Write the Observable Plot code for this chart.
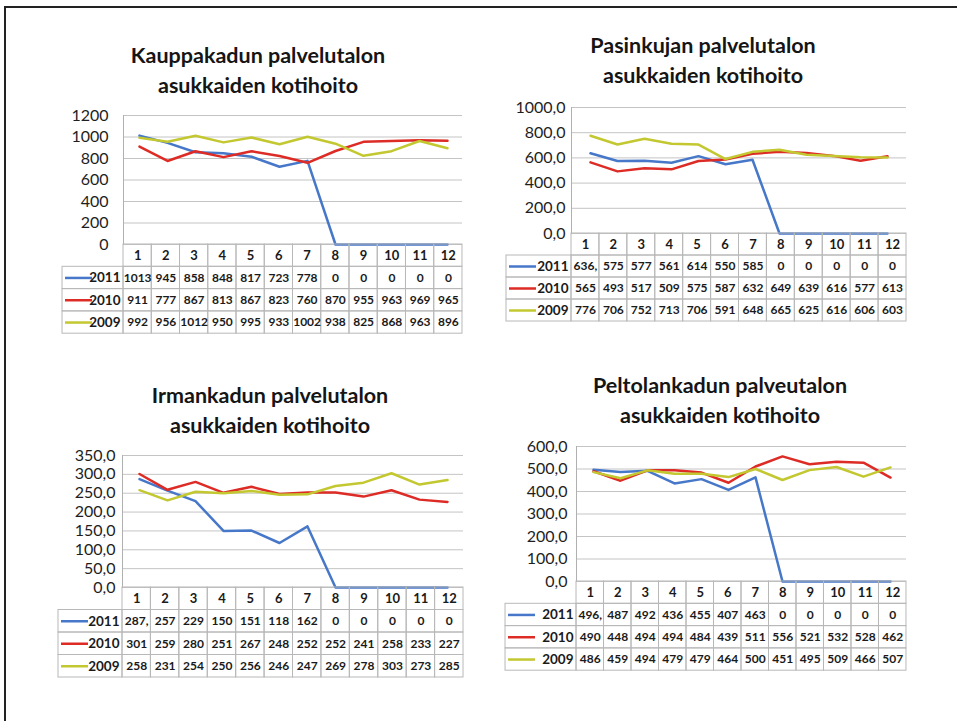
<!DOCTYPE html>
<html><head><meta charset="utf-8">
<script src="https://cdn.jsdelivr.net/npm/d3@7"></script>
<script src="https://cdn.jsdelivr.net/npm/@observablehq/plot@0.6"></script>
<style>
body{margin:0;background:#fff;}
#page{position:relative;width:957px;height:721px;overflow:hidden;background:#fff;font-family:Lato,"Open Sans",sans-serif;}
#frame{position:absolute;left:4px;top:6px;width:1000px;height:1000px;border-top:2px solid #222;border-left:2px solid #222;}
.title{position:absolute;width:400px;text-align:center;font-weight:bold;font-size:21.5px;line-height:30px;color:#151515;}
.abs{position:absolute;}
</style></head><body><div id="page"><div id="frame"></div></div>
<script>
const months = [1,2,3,4,5,6,7,8,9,10,11,12];
const years = ["2011","2010","2009"];
const colors = ["#4677c8","#dd2b25","#c3c830"];

const kauppa2011 = [1013,945,858,848,817,723,778,0,0,0,0,0];
const kauppa2010 = [911,777,867,813,867,823,760,870,955,963,969,965];
const kauppa2009 = [992,956,1012,950,995,933,1002,938,825,868,963,896];

const pasin2011 = [636.3,575,577,561,614,550,585,0,0,0,0,0];
const pasin2010 = [565,493,517,509,575,587,632,649,639,616,577,613];
const pasin2009 = [776,706,752,713,706,591,648,665,625,616,606,603];

const irman2011 = [287.4,257,229,150,151,118,162,0,0,0,0,0];
const irman2010 = [301,259,280,251,267,248,252,252,241,258,233,227];
const irman2009 = [258,231,254,250,256,246,247,269,278,303,273,285];

const pelto2011 = [496.2,487,492,436,455,407,463,0,0,0,0,0];
const pelto2010 = [490,448,494,494,484,439,511,556,521,532,528,462];
const pelto2009 = [486,459,494,479,479,464,500,451,495,509,466,507];

const intFmt = d => String(d);
const decFmt = d => d.toFixed(1).replace(".", ",");
const cellFmt = v => Number.isInteger(v) ? String(v) : Math.trunc(v) + ",";

const panels = [
  {title:["Kauppakadun palvelutalon","asukkaiden kotihoito"], series:[kauppa2011,kauppa2010,kauppa2009], yMax:1200, yStep:200, fmt:intFmt,
   layout:{titleX:258,titleY:55,plotL:123,plotR:462,yTop:115,y0:244,legL:62,rowH:22.3,tickPad:15}},
  {title:["Pasinkujan palvelutalon","asukkaiden kotihoito"], series:[pasin2011,pasin2010,pasin2009], yMax:1000, yStep:200, fmt:decFmt,
   layout:{titleX:703,titleY:45,plotL:571,plotR:906,yTop:107,y0:233,legL:506,rowH:22,tickPad:6}},
  {title:["Irmankadun palvelutalon","asukkaiden kotihoito"], series:[irman2011,irman2010,irman2009], yMax:350, yStep:50, fmt:decFmt,
   layout:{titleX:270,titleY:395,plotL:122,plotR:463,yTop:455,y0:587,legL:58,rowH:22.5,tickPad:7}},
  {title:["Peltolankadun palveutalon","asukkaiden kotihoito"], series:[pelto2011,pelto2010,pelto2009], yMax:600, yStep:100, fmt:decFmt,
   layout:{titleX:720,titleY:385,plotL:576,plotR:906,yTop:446,y0:581,legL:505,rowH:22.3,tickPad:9}}
];

const page = document.getElementById("page");
const font = "Lato, 'Open Sans', sans-serif";

function place(el, left, top) {
  el.classList.add("abs");
  el.style.left = left + "px";
  el.style.top = top + "px";
  page.appendChild(el);
}

for (const p of panels) {
  const L = p.layout;
  const t = document.createElement("div");
  t.className = "title";
  t.innerHTML = p.title.join("<br>");
  t.style.left = (L.titleX - 200) + "px";
  t.style.top = (L.titleY - 15) + "px";
  page.appendChild(t);

  const left = L.legL - 10;
  const W = L.plotR + 20 - left;
  const rows = years.flatMap((y, i) => months.map((m, j) => ({year: y, row: i + 1, month: m, value: p.series[i][j]})));
  const mt = 10;

  const chart = Plot.plot({
    width: W, height: (L.y0 - L.yTop) + mt + 1,
    marginLeft: L.plotL - left, marginRight: 20, marginTop: mt, marginBottom: 1,
    style: {background: "transparent", fontFamily: font, color: "#1e1e1e", overflow: "visible"},
    x: {type: "point", domain: months, padding: 0.5, axis: null},
    y: {domain: [0, p.yMax], axis: null},
    color: {domain: years, range: colors},
    marks: [
      Plot.gridY({interval: p.yStep, stroke: "#c4c4c4", strokeOpacity: 1}),
      Plot.axisY({interval: p.yStep, tickSize: 0, tickPadding: L.tickPad, tickFormat: p.fmt, fontSize: 16, label: null}),
      Plot.frame({anchor: "left", stroke: "#b0b0b0"}),
      Plot.line(rows, {x: "month", y: "value", z: "year", stroke: "year", strokeWidth: 2.5})
    ]
  });
  place(chart, left, L.yTop - mt);

  const cellW = (L.plotR - L.plotL) / 12;
  const Lw = (L.plotL - L.legL) / cellW;
  const grid = "#b8b8b8";
  const table = Plot.plot({
    width: W, height: 4 * L.rowH + 3,
    marginLeft: 10, marginRight: 20, marginTop: 1, marginBottom: 2,
    style: {background: "transparent", fontFamily: font, color: "#1a1a1a", overflow: "visible"},
    x: {domain: [-Lw, 12], axis: null},
    y: {domain: [0, 4], reverse: true, axis: null},
    color: {domain: years, range: colors},
    marks: [
      Plot.rect(months, {x1: m => m - 1, x2: m => m, y1: () => 0, y2: () => 1, stroke: grid, fill: "none"}),
      Plot.rect(rows, {x1: d => d.month - 1, x2: d => d.month, y1: d => d.row, y2: d => d.row + 1, stroke: grid, fill: "none"}),
      Plot.rect(years, {x1: () => -Lw, x2: () => 0, y1: (d, i) => i + 1, y2: (d, i) => i + 2, stroke: grid, fill: "none"}),
      Plot.text(months, {x: m => m - 0.5, y: () => 0.5, text: m => String(m), fontWeight: "bold", fontSize: 13}),
      Plot.text(rows, {x: d => d.month - 0.5, y: d => d.row + 0.5, text: d => cellFmt(d.value), fontWeight: "bold", fontSize: 12}),
      Plot.ruleY(years, {y: (d, i) => i + 1.5, x1: () => -Lw + 3 / cellW, x2: () => -Lw + 30 / cellW, stroke: d => d, strokeWidth: 2.5}),
      Plot.text(years, {x: () => 0, y: (d, i) => i + 1.5, text: d => d, textAnchor: "end", dx: -3, fontSize: 13.5, fontWeight: "bold"})
    ]
  });
  place(table, left, L.y0 - 1);
}
</script></body></html>
